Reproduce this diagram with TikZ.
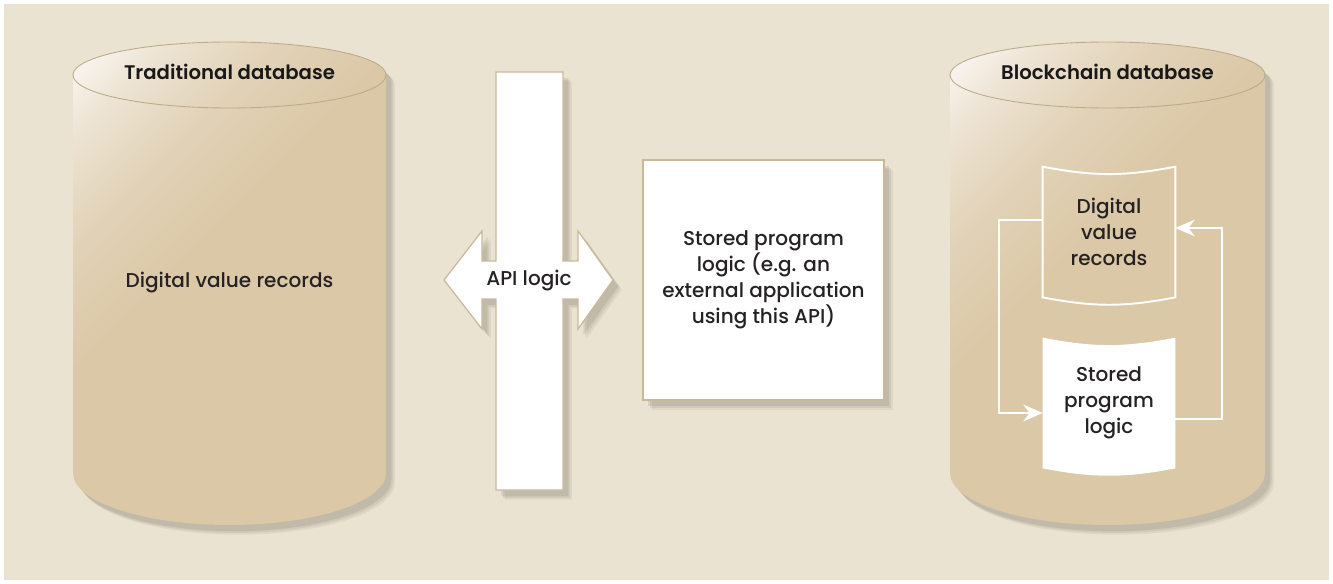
\documentclass[tikz,border=0pt]{standalone}
\usepackage{fontspec}
\setmainfont{Poppins}[UprightFont=* Medium]
\newfontfamily\titlefont{Poppins}[UprightFont=* SemiBold]
\usepackage{tikz}
\usetikzlibrary{calc,positioning,arrows.meta}

\definecolor{paper}{HTML}{EAE3D2}
\definecolor{cyltan}{HTML}{DBC8A7}
\definecolor{cylline}{HTML}{BDAA8A}
\definecolor{boxline}{HTML}{C9B999}
\definecolor{shadecol}{HTML}{7E7566}
\definecolor{inkdark}{HTML}{262223}

\pgfdeclarehorizontalshading{cylshade}{100bp}{color(0bp)=(white); color(13bp)=(white); color(23bp)=(white!50!cyltan); color(33bp)=(white!18!cyltan); color(44bp)=(cyltan); color(100bp)=(cyltan)}

\pgfdeclarelayer{base}
\pgfdeclarelayer{docfill}
\pgfsetlayers{base,docfill,main}

\tikzset{
  softshadow/.style={
    preaction={fill=shadecol, fill opacity=0.10, transform canvas={shift={(5pt,-5.5pt)}}},
    preaction={fill=shadecol, fill opacity=0.14, transform canvas={shift={(4pt,-4.5pt)}}},
    preaction={fill=shadecol, fill opacity=0.18, transform canvas={shift={(3pt,-3.5pt)}}}},
  cylbody/.style={shading=cylshade, shading angle=-45, softshadow},
  cyltop/.style={draw=cylline, line width=0.5pt},
  dbtext/.style={text=inkdark, font=\fontsize{11.4}{14.8}\selectfont, align=center, inner sep=0pt},
  dbtitle/.style={dbtext, text=black!90, font=\titlefont\fontsize{11.2}{14.8}\selectfont},
  docbox/.style={dbtext, minimum width=2.64cm, minimum height=2.6cm},
  docline/.style={draw=white, line width=1.1pt, line join=miter},
  loopline/.style={draw=white, line width=1.1pt, -{Stealth[length=11pt, width=9.5pt, inset=3.5pt]}},
  apishape/.style={fill=white, draw=boxline, line width=0.7pt, softshadow},
  progbox/.style={dbtext, fill=white, draw=boxline, line width=0.7pt, minimum width=4.82cm, minimum height=4.8cm, softshadow}
}

\begin{document}
\begin{tikzpicture}[x=0.02cm, y=-0.02cm]
  \useasboundingbox (0,0) rectangle (1333,584);

  \begin{pgfonlayer}{base}
    \fill[white] (0,0) rectangle (1333,584);
    \fill[paper] (4,4) rectangle (1329,580);
    % traditional database
    \path[cylbody] (73,75) -- (73,473) arc[start angle=180, end angle=0, x radius=156.5, y radius=52]
      -- (386,75) arc[start angle=0, end angle=-180, x radius=156.5, y radius=33] -- cycle;
    \draw[cyltop] (229.5,75) ellipse[x radius=156.5, y radius=33];
    % blockchain database
    \path[cylbody] (950,75) -- (950,473) arc[start angle=180, end angle=0, x radius=157.5, y radius=52]
      -- (1265,75) arc[start angle=0, end angle=-180, x radius=157.5, y radius=33] -- cycle;
    \draw[cyltop] (1107.5,75) ellipse[x radius=157.5, y radius=33];
  \end{pgfonlayer}

  \node[dbtitle] at (229.5,72) (tradtitle) {Traditional database};
  \node[dbtext] at (229.5,283) (tradrecords) {Digital value records};

  % API bar with double arrow
  \path[apishape] (496,72) -- (563,72) -- (563,261) -- (578,261) -- (578,231) -- (613,280)
    -- (578,329) -- (578,299) -- (563,299) -- (563,490) -- (496,490) -- (496,299)
    -- (482,299) -- (482,329) -- (444,280) -- (482,231) -- (482,261) -- (496,261) -- cycle;
  \node[dbtext] at (529,281) (api) {API logic};

  % external program
  \node[progbox] at (763.5,280) (program) {Stored program\\logic (e.g. an\\external application\\using this API)};

  \node[dbtitle] at (1107.5,72) (chaintitle) {Blockchain database};

  \node[docbox] at (1109,232) (records) {Digital\\value\\records};
  \draw[docline] (records.north west) to[bend right=11] (records.north east)
    -- (records.south east) to[bend left=11] (records.south west) -- cycle;

  \node[docbox] at (1109,403) (logic) {Stored\\program\\logic};
  \begin{pgfonlayer}{docfill}
    \fill[white] (logic.north west) to[bend right=11] (logic.north east)
      -- (logic.south east) to[bend left=11] (logic.south west) -- cycle;
  \end{pgfonlayer}

  \draw[loopline] ($(records.west)+(0,-12)$) -- ++(-44,0) |- ($(logic.west)+(0,10)$);
  \draw[loopline] ($(logic.east)+(0,16)$) -- ++(47,0) |- ($(records.east)+(0,-4)$);
\end{tikzpicture}
\end{document}
